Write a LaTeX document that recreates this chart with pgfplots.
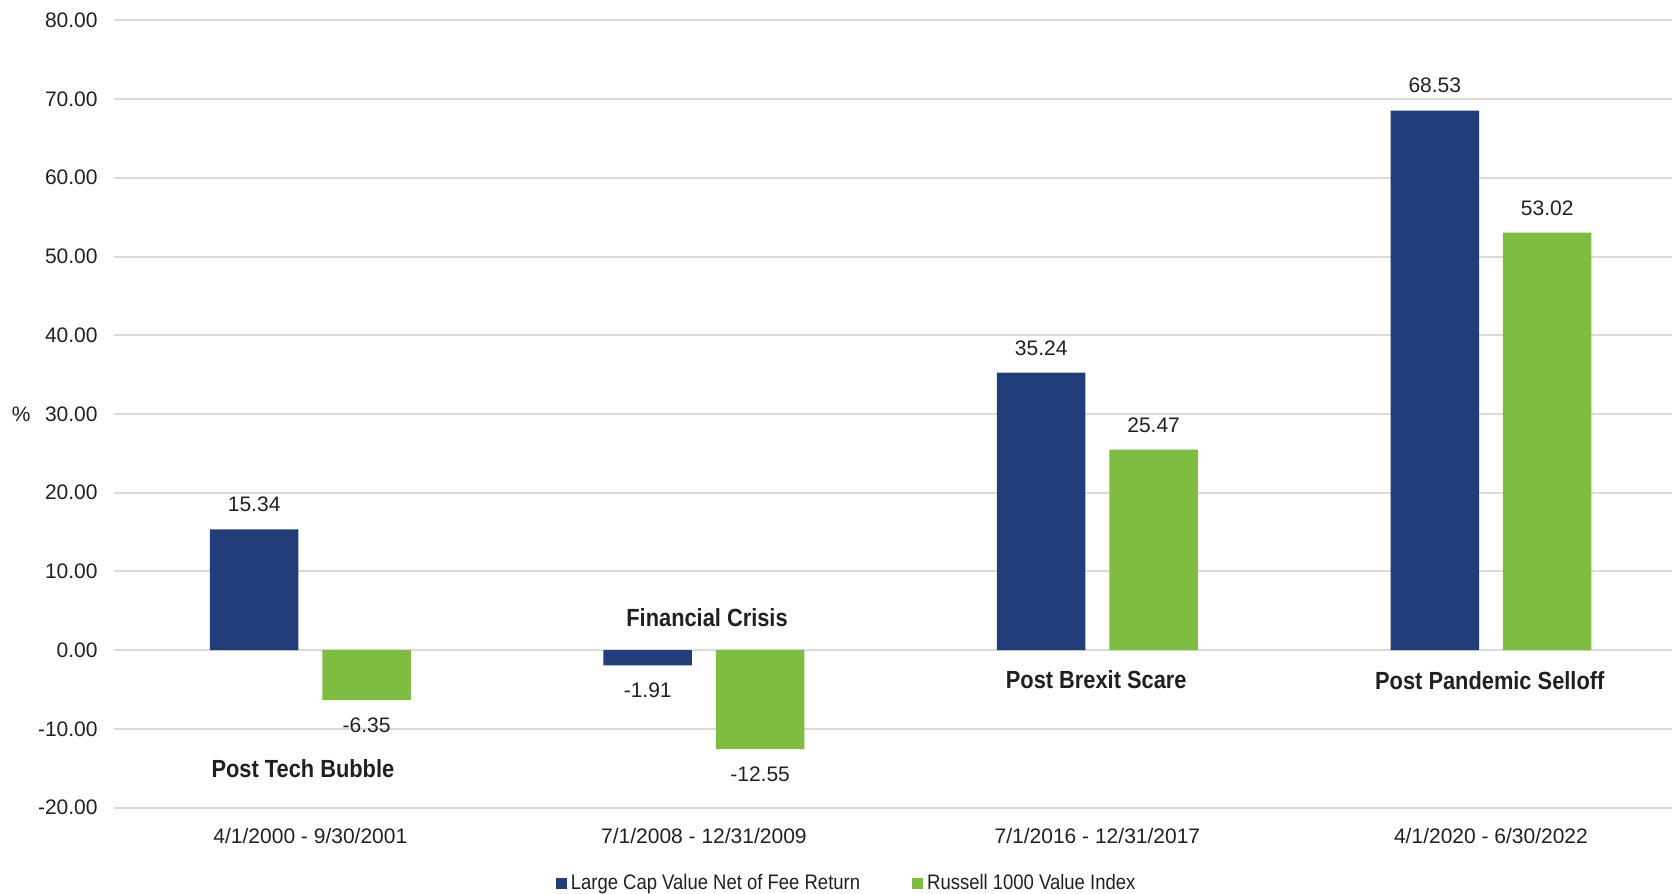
\documentclass[border=0pt]{standalone}
\usepackage{fontspec}
\setmainfont{Liberation Sans}
\newfontfamily\cond[FakeStretch=0.88]{Liberation Sans}
\usepackage{pgfplots}
\pgfplotsset{compat=1.18}
\definecolor{navy}{RGB}{33,62,123}
\definecolor{lgreen}{RGB}{126,188,66}
\definecolor{gridgray}{RGB}{218,218,216}
\definecolor{txt}{RGB}{35,31,32}
\pgfplotsset{sqlegend/.style={legend image code/.code={\fill[##1] (0pt,-2.75pt) rectangle (5.5pt,2.75pt);}}}
\begin{document}
\begin{tikzpicture}
\begin{axis}[
 scale only axis, width=779.2pt, height=393.7pt,
 xmin=-0.5, xmax=3.46, ymin=-20, ymax=80,
 ytick={-20,-10,0,10,20,30,40,50,60,70,80},
 yticklabels={-20.00,-10.00,0.00,10.00,20.00,30.00,40.00,50.00,60.00,70.00,80.00},
 xtick={0,1,2,3},
 xticklabels={4/1/2000 - 9/30/2001, 7/1/2008 - 12/31/2009, 7/1/2016 - 12/31/2017, 4/1/2020 - 6/30/2022},
 ymajorgrids, grid style={gridgray, line width=1pt},
 axis line style={draw=none}, major tick length=0pt, tick style={draw=none},
 tick label style={font=\fontsize{10.5}{12}\selectfont, text=txt, inner sep=0pt},
 yticklabel style={anchor=east, xshift=-7.8pt},
 xticklabel style={anchor=north, yshift=-10pt},
 ybar, bar width=44.25pt,
 clip=false,
 point meta=y,
 nodes near coords={\pgfmathprintnumber[assume math mode=true, fixed, fixed zerofill, precision=2]{\pgfplotspointmeta}},
 nodes near coords align=vertical,
 nodes near coords style={font=\fontsize{10.5}{12}\selectfont, text=txt, inner sep=8.5pt},
 legend columns=2,
 legend style={at={(0.471,0)}, anchor=center, yshift=-37.7pt, draw=none, fill=none,
   font=\cond\fontsize{10.5}{12}\selectfont, text=txt,
   /tikz/every even column/.append style={column sep=24pt}},
]
\addplot[fill=navy, draw=none, bar shift=-28.1pt, sqlegend] coordinates {(0,15.34) (1,-1.91) (2,35.24) (3,68.53)};
\addlegendentry{Large Cap Value Net of Fee Return}
\addplot[fill=lgreen, draw=none, bar shift=28.1pt, sqlegend] coordinates {(0,-6.35) (1,-12.55) (2,25.47) (3,53.02)};
\addlegendentry{Russell 1000 Value Index}
\node[font=\cond\bfseries\fontsize{12.4}{14}\selectfont, text=txt] at (axis cs:-0.019,-15.06) {Post Tech Bubble};
\node[font=\cond\bfseries\fontsize{12.4}{14}\selectfont, text=txt] at (axis cs:1.008,4.17) {Financial Crisis};
\node[font=\cond\bfseries\fontsize{12.4}{14}\selectfont, text=txt] at (axis cs:1.997,-3.68) {Post Brexit Scare};
\node[font=\cond\bfseries\fontsize{12.4}{14}\selectfont, text=txt] at (axis cs:2.997,-3.82) {Post Pandemic Selloff};
\node[font=\fontsize{10.5}{12}\selectfont, text=txt] at (axis cs:-0.735,30) {\%};
\coordinate (BL) at (rel axis cs:0,0);
\end{axis}
\pgfresetboundingbox
\path[use as bounding box] ([shift={(-56.8pt,-43.15pt)}]BL) rectangle ([shift={(779.2pt,403.85pt)}]BL);
\end{tikzpicture}
\end{document}
